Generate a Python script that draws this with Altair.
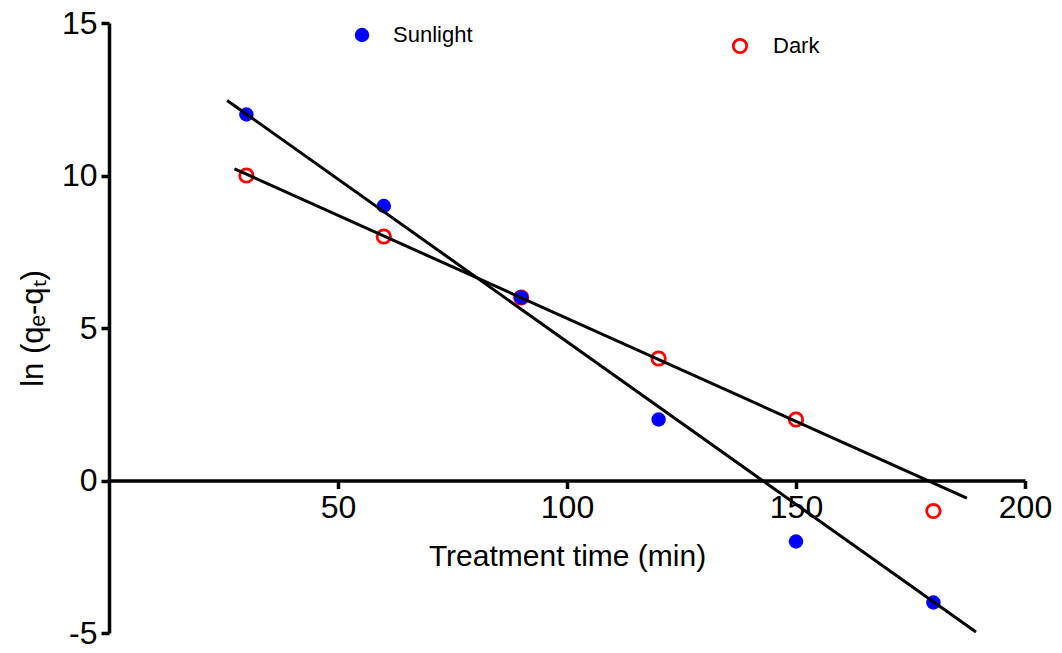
import altair as alt
import pandas as pd

# Data
time_min = [30, 60, 90, 120, 150, 180]
sunlight = [12, 9, 6, 2, -2, -4]
dark = [10, 8, 6, 4, 2, -1]

# Fitted lines (endpoints)
sun_fit_x = [25.8, 189.3]
sun_fit_y = [12.46, -4.97]
dark_fit_x = [27.4, 187.3]
dark_fit_y = [10.22, -0.58]

x_ticks = [50, 100, 150, 200]
y_ticks = [-5, 0, 5, 10, 15]

W, H = 916, 610
FONT = "Liberation Sans"

pts = pd.DataFrame({"t": time_min * 2,
                    "v": sunlight + dark,
                    "s": ["Sunlight"] * 6 + ["Dark"] * 6})
fit = pd.DataFrame({"t": sun_fit_x + dark_fit_x,
                    "v": sun_fit_y + dark_fit_y,
                    "s": ["Sunlight"] * 2 + ["Dark"] * 2})

xs = alt.Scale(domain=[0, 200], nice=False, zero=False)
ys = alt.Scale(domain=[-5, 15], nice=False, zero=False)

xaxis = alt.Axis(values=x_ticks, grid=False, offset=-H / 4, labelFlush=False,
                 title="Treatment time (min)", titleFontSize=30, titlePadding=18)
yaxis = alt.Axis(values=y_ticks, grid=False, labelFlush=False,
                 labelExpr="'' + datum.value",
                 title="ln (qₑ-qₜ)", titleFontSize=31, titlePadding=12)

X = alt.X("t:Q", scale=xs, axis=xaxis)
Y = alt.Y("v:Q", scale=ys, axis=yaxis)

dark_pts = alt.Chart(pts).transform_filter(alt.datum.s == "Dark").mark_point(
    shape="circle", filled=False, color="red", size=180, strokeWidth=2.8, opacity=1
).encode(x=X, y=Y)

sun_pts = alt.Chart(pts).transform_filter(alt.datum.s == "Sunlight").mark_circle(
    color="blue", size=210, opacity=1
).encode(x=X, y=Y)

lines = alt.Chart(fit).mark_line(color="black", strokeWidth=3).encode(
    x=X, y=Y, detail="s:N")

# Legend entries
one = pd.DataFrame({"a": [0]})
leg_sun_pt = alt.Chart(one).mark_circle(color="blue", size=210, opacity=1).encode(
    x=alt.value(253), y=alt.value(12))
leg_sun_tx = alt.Chart(one).mark_text(
    text="Sunlight", font=FONT, fontSize=22, align="left", baseline="middle", color="black").encode(
    x=alt.value(284), y=alt.value(12))
leg_dark_pt = alt.Chart(one).mark_point(
    shape="circle", filled=False, color="red", size=180, strokeWidth=2.8, opacity=1).encode(
    x=alt.value(631), y=alt.value(23))
leg_dark_tx = alt.Chart(one).mark_text(
    text="Dark", font=FONT, fontSize=22, align="left", baseline="middle", color="black").encode(
    x=alt.value(664), y=alt.value(23))

chart = alt.layer(dark_pts, sun_pts, lines, leg_sun_pt, leg_sun_tx, leg_dark_pt, leg_dark_tx).properties(
    width=W, height=H,
    autosize=alt.AutoSizeParams(type="none"),
    padding={"left": 109, "top": 23, "right": 37, "bottom": 20},
    background="white",
).configure_view(stroke=None).configure_axis(
    domainWidth=3.5, domainColor="black", tickColor="black", tickWidth=3.5, tickSize=8,
    labelFontSize=32, labelFont=FONT, labelColor="black", labelPadding=4,
    titleFont=FONT, titleFontWeight="normal", titleColor="black",
)

chart.save("out.html", embed_options={"renderer": "svg", "actions": False})
